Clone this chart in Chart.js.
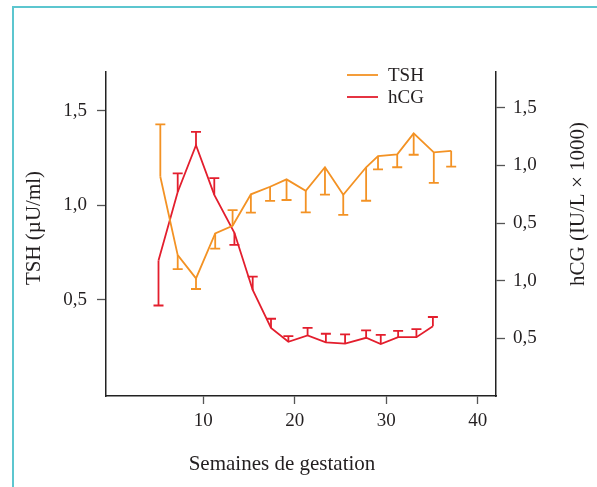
<!DOCTYPE html>
<html>
<head>
<meta charset="utf-8">
<script src="https://cdn.jsdelivr.net/npm/chart.js@4.4.1/dist/chart.umd.min.js"></script>
<style>
  body { margin: 0; background: #fff; overflow: hidden; }
  #frame { position: absolute; left: 12px; top: 6px; width: 700px; height: 600px;
           border-left: 2px solid #5cc6cf; border-top: 2px solid #5cc6cf; }
  #chart { position: absolute; left: 0; top: 0; }
</style>
</head>
<body>
<div id="frame"></div>
<canvas id="chart" width="597" height="487"></canvas>
<script>
// TSH (left axis, µU/ml)
const tshWeeks = [5.3, 7.2, 9.2, 11.3, 13.2, 15.2, 17.3, 19.1, 21.2, 23.3, 25.3, 27.8, 29.1, 31.2, 33, 35.2, 37.1];
const tshValues = [1.151, 0.737, 0.614, 0.852, 0.892, 1.058, 1.098, 1.137, 1.077, 1.201, 1.056, 1.201, 1.260, 1.269, 1.380, 1.280, 1.288];
const tshErrEnds = [1.427, 0.663, 0.558, 0.771, 0.975, 0.961, 1.023, 1.028, 0.963, 1.056, 0.950, 1.024, 1.190, 1.201, 1.267, 1.118, 1.204];

// hCG (right axis, in the axis' own tick units)
const hcgWeeks = [5.1, 7.2, 9.2, 11.2, 13.4, 15.4, 17.4, 19.3, 21.4, 23.4, 25.5, 27.8, 29.4, 31.3, 33.3, 35.1];
const hcgValues = [2.35, 3.54, 4.35, 3.49, 2.83, 1.84, 1.18, 0.94, 1.05, 0.93, 0.91, 1.01, 0.90, 1.02, 1.02, 1.21];
const hcgErrEnds = [1.57, 3.86, 4.58, 3.78, 2.62, 2.07, 1.34, 1.04, 1.18, 1.08, 1.07, 1.14, 1.06, 1.13, 1.16, 1.37];

const xTicks = [10, 20, 30, 40];
const leftTicks = [0.5, 1.0, 1.5];
const rightTicks = [1, 2, 3, 4, 5];
const rightTickLabels = ['0,5', '1,0', '0,5', '1,0', '1,5'];

const ORANGE = '#f39224';
const RED = '#e31e2d';
const TEXT = '#231f20';
const SERIF = "'Liberation Serif', 'DejaVu Serif', serif";

function toPoints(xs, ys) {
    return xs.map((x, i) => ({ x: x, y: ys[i] }));
}

// one-sided error bars with a cap at the end
const errorBars = {
    id: 'errorBars',
    afterDatasetsDraw(chart) {
        const ctx = chart.ctx;
        chart.data.datasets.forEach((ds, di) => {
            const xs = chart.scales.x;
            const ys = chart.scales[ds.yAxisID];
            ctx.save();
            ctx.strokeStyle = ds.borderColor;
            ctx.lineWidth = 1.8;
            ds.data.forEach((p, i) => {
                const px = xs.getPixelForValue(p.x);
                const y0 = ys.getPixelForValue(p.y);
                const y1 = ys.getPixelForValue(ds.errEnds[i]);
                ctx.beginPath();
                ctx.moveTo(px, y0);
                ctx.lineTo(px, y1);
                ctx.moveTo(px - 5, y1);
                ctx.lineTo(px + 5, y1);
                ctx.stroke();
            });
            ctx.restore();
        });
    }
};

// legend + axis titles
const decorations = {
    id: 'decorations',
    afterDraw(chart) {
        const ctx = chart.ctx;
        ctx.save();
        ctx.fillStyle = TEXT;
        ctx.font = '19px ' + SERIF;
        ctx.textBaseline = 'middle';
        ctx.textAlign = 'left';
        chart.data.datasets.forEach((ds, i) => {
            const y = 75 + i * 22;
            ctx.strokeStyle = ds.borderColor;
            ctx.lineWidth = 1.8;
            ctx.beginPath();
            ctx.moveTo(347, y);
            ctx.lineTo(378, y);
            ctx.stroke();
            ctx.fillText(ds.label, 388, y + 1);
        });

        ctx.font = '21px ' + SERIF;
        ctx.textAlign = 'center';
        ctx.fillText('Semaines de gestation', 282, 464);

        ctx.save();
        ctx.translate(34, 228);
        ctx.rotate(-Math.PI / 2);
        ctx.fillText('TSH (\u00b5U/ml)', 0, 0);
        ctx.restore();

        ctx.save();
        ctx.translate(578, 204);
        ctx.rotate(-Math.PI / 2);
        ctx.fillText('hCG (IU/L \u00d7 1000)', 0, 0);
        ctx.restore();
        ctx.restore();
    }
};

const ctx = document.getElementById('chart').getContext('2d');
const chart = new Chart(ctx, {
    type: 'line',
    data: {
        datasets: [
            {
                label: 'TSH',
                data: toPoints(tshWeeks, tshValues),
                errEnds: tshErrEnds,
                borderColor: ORANGE,
                borderWidth: 1.8,
                pointRadius: 0,
                tension: 0,
                yAxisID: 'y'
            },
            {
                label: 'hCG',
                data: toPoints(hcgWeeks, hcgValues),
                errEnds: hcgErrEnds,
                borderColor: RED,
                borderWidth: 1.8,
                pointRadius: 0,
                tension: 0,
                yAxisID: 'y2'
            }
        ]
    },
    options: {
        responsive: false,
        animation: false,
        layout: { padding: { top: 72, left: 0, right: 0, bottom: 0 } },
        plugins: {
            legend: { display: false },
            tooltip: { enabled: false }
        },
        scales: {
            x: {
                type: 'linear',
                min: -0.64,
                max: 42,
                afterBuildTicks: (s) => { s.ticks = xTicks.map(v => ({ value: v })); },
                afterFit: (s) => { s.height = 91; },
                border: { display: true, color: '#222', width: 1.5 },
                grid: { drawOnChartArea: false, tickLength: 8, tickColor: '#555', tickWidth: 1.3 },
                ticks: { color: TEXT, padding: 6, maxRotation: 0, font: { family: SERIF, size: 19 } }
            },
            y: {
                position: 'left',
                min: -0.007,
                max: 1.704,
                afterBuildTicks: (s) => { s.ticks = leftTicks.map(v => ({ value: v })); },
                afterFit: (s) => { s.width = 106; },
                border: { display: true, color: '#222', width: 1.5 },
                grid: { drawOnChartArea: false, tickLength: 9, tickColor: '#555', tickWidth: 1.3 },
                ticks: {
                    color: TEXT, padding: 10, font: { family: SERIF, size: 19 },
                    callback: (v) => v.toFixed(1).replace('.', ',')
                }
            },
            y2: {
                position: 'right',
                min: 0,
                max: 5.62,
                afterBuildTicks: (s) => { s.ticks = rightTicks.map(v => ({ value: v })); },
                afterFit: (s) => { s.width = 101; },
                border: { display: true, color: '#222', width: 1.5 },
                grid: { drawOnChartArea: false, tickLength: 9, tickColor: '#555', tickWidth: 1.3 },
                ticks: {
                    color: TEXT, padding: 8, font: { family: SERIF, size: 19 },
                    callback: (v, i) => rightTickLabels[i]
                }
            }
        }
    },
    plugins: [errorBars, decorations]
});
</script>
</body>
</html>
